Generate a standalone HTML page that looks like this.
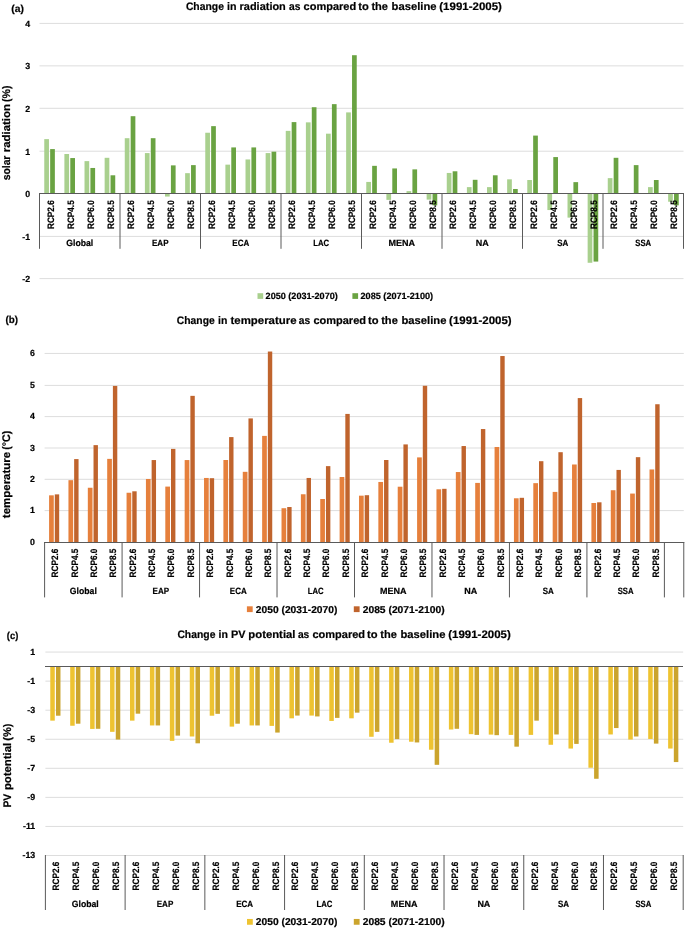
<!DOCTYPE html>
<html><head><meta charset="utf-8"><title>Figure</title>
<style>
html,body{margin:0;padding:0;background:#fff;}
body{width:685px;height:929px;overflow:hidden;font-family:"Liberation Sans",sans-serif;}
svg{display:block;will-change:transform;}
text{font-family:"Liberation Sans",sans-serif;font-weight:bold;fill:#000;stroke:#000;stroke-width:0.2px;text-rendering:geometricPrecision;}
.tk{font-size:8.8px;}
.ct{font-size:9.3px;}
.gp{font-size:9.1px;}
.ttl{font-size:10.9px;}
.yl{font-size:11.0px;}
.lg{font-size:9.1px;}
.lg2{font-size:10.0px;}
.pl{font-size:10.2px;}
</style></head><body>
<svg width="685" height="929" viewBox="0 0 685 929">
<rect x="0" y="0" width="685" height="929" fill="#fff"/>

<line x1="39.50" x2="683.50" y1="23.40" y2="23.40" stroke="#dddddd" stroke-width="1"/>
<line x1="39.50" x2="683.50" y1="65.85" y2="65.85" stroke="#dddddd" stroke-width="1"/>
<line x1="39.50" x2="683.50" y1="108.30" y2="108.30" stroke="#dddddd" stroke-width="1"/>
<line x1="39.50" x2="683.50" y1="151.20" y2="151.20" stroke="#dddddd" stroke-width="1"/>
<line x1="39.50" x2="683.50" y1="236.40" y2="236.40" stroke="#dddddd" stroke-width="1"/>
<line x1="39.50" x2="683.50" y1="278.60" y2="278.60" stroke="#dddddd" stroke-width="1"/>
<rect x="44.26" y="139.12" width="4.70" height="54.38" fill="#a9d08e"/>
<rect x="50.16" y="149.08" width="4.70" height="44.42" fill="#6aa342"/>
<rect x="64.39" y="154.01" width="4.70" height="39.49" fill="#a9d08e"/>
<rect x="70.29" y="158.06" width="4.70" height="35.44" fill="#6aa342"/>
<rect x="84.51" y="161.12" width="4.70" height="32.38" fill="#a9d08e"/>
<rect x="90.41" y="167.97" width="4.70" height="25.53" fill="#6aa342"/>
<rect x="104.64" y="157.80" width="4.70" height="35.70" fill="#a9d08e"/>
<rect x="110.54" y="175.29" width="4.70" height="18.21" fill="#6aa342"/>
<rect x="124.76" y="138.19" width="4.70" height="55.31" fill="#a9d08e"/>
<rect x="130.66" y="116.19" width="4.70" height="77.31" fill="#6aa342"/>
<rect x="144.89" y="153.08" width="4.70" height="40.42" fill="#a9d08e"/>
<rect x="150.79" y="138.19" width="4.70" height="55.31" fill="#6aa342"/>
<rect x="165.01" y="193.50" width="4.70" height="3.06" fill="#a9d08e"/>
<rect x="170.91" y="165.37" width="4.70" height="28.13" fill="#6aa342"/>
<rect x="185.14" y="173.16" width="4.70" height="20.34" fill="#a9d08e"/>
<rect x="191.04" y="165.12" width="4.70" height="28.38" fill="#6aa342"/>
<rect x="205.26" y="132.74" width="4.70" height="60.76" fill="#a9d08e"/>
<rect x="211.16" y="126.14" width="4.70" height="67.36" fill="#6aa342"/>
<rect x="225.39" y="164.65" width="4.70" height="28.85" fill="#a9d08e"/>
<rect x="231.29" y="147.42" width="4.70" height="46.08" fill="#6aa342"/>
<rect x="245.51" y="159.46" width="4.70" height="34.04" fill="#a9d08e"/>
<rect x="251.41" y="147.42" width="4.70" height="46.08" fill="#6aa342"/>
<rect x="265.64" y="153.08" width="4.70" height="40.42" fill="#a9d08e"/>
<rect x="271.54" y="151.67" width="4.70" height="41.83" fill="#6aa342"/>
<rect x="285.76" y="130.87" width="4.70" height="62.63" fill="#a9d08e"/>
<rect x="291.66" y="122.10" width="4.70" height="71.40" fill="#6aa342"/>
<rect x="305.89" y="122.36" width="4.70" height="71.14" fill="#a9d08e"/>
<rect x="311.79" y="107.21" width="4.70" height="86.29" fill="#6aa342"/>
<rect x="326.01" y="133.67" width="4.70" height="59.83" fill="#a9d08e"/>
<rect x="331.91" y="104.14" width="4.70" height="89.36" fill="#6aa342"/>
<rect x="346.14" y="112.40" width="4.70" height="81.10" fill="#a9d08e"/>
<rect x="352.04" y="55.21" width="4.70" height="138.29" fill="#6aa342"/>
<rect x="366.26" y="181.93" width="4.70" height="11.57" fill="#a9d08e"/>
<rect x="372.16" y="165.84" width="4.70" height="27.66" fill="#6aa342"/>
<rect x="386.39" y="193.50" width="4.70" height="6.38" fill="#a9d08e"/>
<rect x="392.29" y="168.44" width="4.70" height="25.06" fill="#6aa342"/>
<rect x="406.51" y="191.12" width="4.70" height="2.38" fill="#a9d08e"/>
<rect x="412.41" y="169.37" width="4.70" height="24.13" fill="#6aa342"/>
<rect x="426.64" y="193.50" width="4.70" height="6.13" fill="#a9d08e"/>
<rect x="432.54" y="193.50" width="4.70" height="11.83" fill="#6aa342"/>
<rect x="446.76" y="172.95" width="4.70" height="20.55" fill="#a9d08e"/>
<rect x="452.66" y="171.29" width="4.70" height="22.21" fill="#6aa342"/>
<rect x="466.89" y="187.12" width="4.70" height="6.38" fill="#a9d08e"/>
<rect x="472.79" y="179.80" width="4.70" height="13.70" fill="#6aa342"/>
<rect x="487.01" y="187.12" width="4.70" height="6.38" fill="#a9d08e"/>
<rect x="492.91" y="175.29" width="4.70" height="18.21" fill="#6aa342"/>
<rect x="507.14" y="179.33" width="4.70" height="14.17" fill="#a9d08e"/>
<rect x="513.04" y="188.99" width="4.70" height="4.51" fill="#6aa342"/>
<rect x="527.26" y="180.01" width="4.70" height="13.49" fill="#a9d08e"/>
<rect x="533.16" y="135.59" width="4.70" height="57.91" fill="#6aa342"/>
<rect x="547.39" y="193.50" width="4.70" height="16.55" fill="#a9d08e"/>
<rect x="553.29" y="157.08" width="4.70" height="36.42" fill="#6aa342"/>
<rect x="567.51" y="193.50" width="4.70" height="24.13" fill="#a9d08e"/>
<rect x="573.41" y="182.14" width="4.70" height="11.36" fill="#6aa342"/>
<rect x="587.64" y="193.50" width="4.70" height="69.27" fill="#a9d08e"/>
<rect x="593.54" y="193.50" width="4.70" height="68.08" fill="#6aa342"/>
<rect x="607.76" y="178.14" width="4.70" height="15.36" fill="#a9d08e"/>
<rect x="613.66" y="157.80" width="4.70" height="35.70" fill="#6aa342"/>
<rect x="633.79" y="165.12" width="4.70" height="28.38" fill="#6aa342"/>
<rect x="648.01" y="187.12" width="4.70" height="6.38" fill="#a9d08e"/>
<rect x="653.91" y="180.01" width="4.70" height="13.49" fill="#6aa342"/>
<rect x="668.14" y="193.50" width="4.70" height="8.25" fill="#a9d08e"/>
<rect x="674.04" y="193.50" width="4.70" height="11.83" fill="#6aa342"/>
<line x1="39.00" x2="684.00" y1="193.50" y2="193.50" stroke="#5a5a5a" stroke-width="1"/>
<line x1="39.50" x2="39.50" y1="193.00" y2="248.80" stroke="#5a5a5a" stroke-width="1"/>
<line x1="120.00" x2="120.00" y1="193.00" y2="248.80" stroke="#5a5a5a" stroke-width="1"/>
<line x1="200.50" x2="200.50" y1="193.00" y2="248.80" stroke="#5a5a5a" stroke-width="1"/>
<line x1="281.00" x2="281.00" y1="193.00" y2="248.80" stroke="#5a5a5a" stroke-width="1"/>
<line x1="361.50" x2="361.50" y1="193.00" y2="248.80" stroke="#5a5a5a" stroke-width="1"/>
<line x1="442.00" x2="442.00" y1="193.00" y2="248.80" stroke="#5a5a5a" stroke-width="1"/>
<line x1="522.50" x2="522.50" y1="193.00" y2="248.80" stroke="#5a5a5a" stroke-width="1"/>
<line x1="603.00" x2="603.00" y1="193.00" y2="248.80" stroke="#5a5a5a" stroke-width="1"/>
<line x1="683.50" x2="683.50" y1="193.00" y2="248.80" stroke="#5a5a5a" stroke-width="1"/>
<text x="30.20" y="26.70" text-anchor="end" class="tk">4</text>
<text x="30.20" y="69.15" text-anchor="end" class="tk">3</text>
<text x="30.20" y="111.60" text-anchor="end" class="tk">2</text>
<text x="30.20" y="154.50" text-anchor="end" class="tk">1</text>
<text x="30.20" y="196.80" text-anchor="end" class="tk">0</text>
<text x="30.20" y="239.70" text-anchor="end" class="tk">-1</text>
<text x="30.20" y="281.90" text-anchor="end" class="tk">-2</text>
<text transform="translate(53.51,229.00) rotate(-90)" class="ct" textLength="28.70" lengthAdjust="spacingAndGlyphs">RCP2.6</text>
<text transform="translate(73.64,229.00) rotate(-90)" class="ct" textLength="28.70" lengthAdjust="spacingAndGlyphs">RCP4.5</text>
<text transform="translate(93.76,229.00) rotate(-90)" class="ct" textLength="28.70" lengthAdjust="spacingAndGlyphs">RCP6.0</text>
<text transform="translate(113.89,229.00) rotate(-90)" class="ct" textLength="28.70" lengthAdjust="spacingAndGlyphs">RCP8.5</text>
<text transform="translate(134.01,229.00) rotate(-90)" class="ct" textLength="28.70" lengthAdjust="spacingAndGlyphs">RCP2.6</text>
<text transform="translate(154.14,229.00) rotate(-90)" class="ct" textLength="28.70" lengthAdjust="spacingAndGlyphs">RCP4.5</text>
<text transform="translate(174.26,229.00) rotate(-90)" class="ct" textLength="28.70" lengthAdjust="spacingAndGlyphs">RCP6.0</text>
<text transform="translate(194.39,229.00) rotate(-90)" class="ct" textLength="28.70" lengthAdjust="spacingAndGlyphs">RCP8.5</text>
<text transform="translate(214.51,229.00) rotate(-90)" class="ct" textLength="28.70" lengthAdjust="spacingAndGlyphs">RCP2.6</text>
<text transform="translate(234.64,229.00) rotate(-90)" class="ct" textLength="28.70" lengthAdjust="spacingAndGlyphs">RCP4.5</text>
<text transform="translate(254.76,229.00) rotate(-90)" class="ct" textLength="28.70" lengthAdjust="spacingAndGlyphs">RCP6.0</text>
<text transform="translate(274.89,229.00) rotate(-90)" class="ct" textLength="28.70" lengthAdjust="spacingAndGlyphs">RCP8.5</text>
<text transform="translate(295.01,229.00) rotate(-90)" class="ct" textLength="28.70" lengthAdjust="spacingAndGlyphs">RCP2.6</text>
<text transform="translate(315.14,229.00) rotate(-90)" class="ct" textLength="28.70" lengthAdjust="spacingAndGlyphs">RCP4.5</text>
<text transform="translate(335.26,229.00) rotate(-90)" class="ct" textLength="28.70" lengthAdjust="spacingAndGlyphs">RCP6.0</text>
<text transform="translate(355.39,229.00) rotate(-90)" class="ct" textLength="28.70" lengthAdjust="spacingAndGlyphs">RCP8.5</text>
<text transform="translate(375.51,229.00) rotate(-90)" class="ct" textLength="28.70" lengthAdjust="spacingAndGlyphs">RCP2.6</text>
<text transform="translate(395.64,229.00) rotate(-90)" class="ct" textLength="28.70" lengthAdjust="spacingAndGlyphs">RCP4.5</text>
<text transform="translate(415.76,229.00) rotate(-90)" class="ct" textLength="28.70" lengthAdjust="spacingAndGlyphs">RCP6.0</text>
<text transform="translate(435.89,229.00) rotate(-90)" class="ct" textLength="28.70" lengthAdjust="spacingAndGlyphs">RCP8.5</text>
<text transform="translate(456.01,229.00) rotate(-90)" class="ct" textLength="28.70" lengthAdjust="spacingAndGlyphs">RCP2.6</text>
<text transform="translate(476.14,229.00) rotate(-90)" class="ct" textLength="28.70" lengthAdjust="spacingAndGlyphs">RCP4.5</text>
<text transform="translate(496.26,229.00) rotate(-90)" class="ct" textLength="28.70" lengthAdjust="spacingAndGlyphs">RCP6.0</text>
<text transform="translate(516.39,229.00) rotate(-90)" class="ct" textLength="28.70" lengthAdjust="spacingAndGlyphs">RCP8.5</text>
<text transform="translate(536.51,229.00) rotate(-90)" class="ct" textLength="28.70" lengthAdjust="spacingAndGlyphs">RCP2.6</text>
<text transform="translate(556.64,229.00) rotate(-90)" class="ct" textLength="28.70" lengthAdjust="spacingAndGlyphs">RCP4.5</text>
<text transform="translate(576.76,229.00) rotate(-90)" class="ct" textLength="28.70" lengthAdjust="spacingAndGlyphs">RCP6.0</text>
<text transform="translate(596.89,229.00) rotate(-90)" class="ct" textLength="28.70" lengthAdjust="spacingAndGlyphs">RCP8.5</text>
<text transform="translate(617.01,229.00) rotate(-90)" class="ct" textLength="28.70" lengthAdjust="spacingAndGlyphs">RCP2.6</text>
<text transform="translate(637.14,229.00) rotate(-90)" class="ct" textLength="28.70" lengthAdjust="spacingAndGlyphs">RCP4.5</text>
<text transform="translate(657.26,229.00) rotate(-90)" class="ct" textLength="28.70" lengthAdjust="spacingAndGlyphs">RCP6.0</text>
<text transform="translate(677.39,229.00) rotate(-90)" class="ct" textLength="28.70" lengthAdjust="spacingAndGlyphs">RCP8.5</text>
<text x="66.25" y="246.00" class="gp" textLength="27.00" lengthAdjust="spacingAndGlyphs">Global</text>
<text x="151.95" y="246.00" class="gp" textLength="16.60" lengthAdjust="spacingAndGlyphs">EAP</text>
<text x="232.30" y="246.00" class="gp" textLength="16.90" lengthAdjust="spacingAndGlyphs">ECA</text>
<text x="313.30" y="246.00" class="gp" textLength="15.90" lengthAdjust="spacingAndGlyphs">LAC</text>
<text x="388.45" y="246.00" class="gp" textLength="26.60" lengthAdjust="spacingAndGlyphs">MENA</text>
<text x="475.75" y="246.00" class="gp" textLength="13.00" lengthAdjust="spacingAndGlyphs">NA</text>
<text x="557.20" y="246.00" class="gp" textLength="11.10" lengthAdjust="spacingAndGlyphs">SA</text>
<text x="635.30" y="246.00" class="gp" textLength="15.90" lengthAdjust="spacingAndGlyphs">SSA</text>
<text x="185.90" y="10.00" class="ttl" textLength="38.00" lengthAdjust="spacingAndGlyphs">Change</text>
<text x="227.10" y="10.00" class="ttl" textLength="9.50" lengthAdjust="spacingAndGlyphs">in</text>
<text x="239.60" y="10.00" class="ttl" textLength="46.20" lengthAdjust="spacingAndGlyphs">radiation</text>
<text x="289.00" y="10.00" class="ttl" textLength="11.40" lengthAdjust="spacingAndGlyphs">as</text>
<text x="303.60" y="10.00" class="ttl" textLength="52.60" lengthAdjust="spacingAndGlyphs">compared</text>
<text x="358.20" y="10.00" class="ttl" textLength="10.50" lengthAdjust="spacingAndGlyphs">to</text>
<text x="371.40" y="10.00" class="ttl" textLength="16.60" lengthAdjust="spacingAndGlyphs">the</text>
<text x="391.60" y="10.00" class="ttl" textLength="45.00" lengthAdjust="spacingAndGlyphs">baseline</text>
<text x="439.30" y="10.00" class="ttl" textLength="62.60" lengthAdjust="spacingAndGlyphs">(1991-2005)</text>
<text x="11.3" y="12.0" class="pl" textLength="12.6" lengthAdjust="spacingAndGlyphs">(a)</text>
<text transform="translate(10.30,180.30) rotate(-90)" class="yl" textLength="24.70" lengthAdjust="spacingAndGlyphs">solar</text>
<text transform="translate(10.30,152.30) rotate(-90)" class="yl" textLength="48.30" lengthAdjust="spacingAndGlyphs">radiation</text>
<text transform="translate(10.30,102.00) rotate(-90)" class="yl" textLength="16.40" lengthAdjust="spacingAndGlyphs">(%)</text>
<rect x="257.5" y="293.2" width="5.7" height="5.7" fill="#a9d08e"/>
<text x="265.6" y="299.2" class="lg" textLength="72.2" lengthAdjust="spacingAndGlyphs">2050 (2031-2070)</text>
<rect x="352.4" y="293.2" width="5.7" height="5.7" fill="#6aa342"/>
<text x="360.5" y="299.2" class="lg" textLength="72.6" lengthAdjust="spacingAndGlyphs">2085 (2071-2100)</text>
<line x1="44.60" x2="683.77" y1="353.45" y2="353.45" stroke="#dddddd" stroke-width="1"/>
<line x1="44.60" x2="683.77" y1="385.40" y2="385.40" stroke="#dddddd" stroke-width="1"/>
<line x1="44.60" x2="683.77" y1="416.60" y2="416.60" stroke="#dddddd" stroke-width="1"/>
<line x1="44.60" x2="683.77" y1="448.00" y2="448.00" stroke="#dddddd" stroke-width="1"/>
<line x1="44.60" x2="683.77" y1="479.30" y2="479.30" stroke="#dddddd" stroke-width="1"/>
<line x1="44.60" x2="683.77" y1="510.60" y2="510.60" stroke="#dddddd" stroke-width="1"/>
<rect x="49.08" y="495.33" width="4.70" height="46.67" fill="#e6803c"/>
<rect x="54.78" y="494.38" width="4.40" height="47.62" fill="#c0642d"/>
<rect x="68.45" y="480.18" width="4.70" height="61.82" fill="#e6803c"/>
<rect x="74.15" y="459.09" width="4.40" height="82.91" fill="#c0642d"/>
<rect x="87.82" y="487.75" width="4.70" height="54.25" fill="#e6803c"/>
<rect x="93.52" y="445.13" width="4.40" height="96.87" fill="#c0642d"/>
<rect x="107.19" y="458.87" width="4.70" height="83.13" fill="#e6803c"/>
<rect x="112.89" y="385.92" width="4.40" height="156.08" fill="#c0642d"/>
<rect x="126.56" y="492.75" width="4.70" height="49.25" fill="#e6803c"/>
<rect x="132.26" y="491.30" width="4.40" height="50.70" fill="#c0642d"/>
<rect x="145.93" y="478.98" width="4.70" height="63.02" fill="#e6803c"/>
<rect x="151.63" y="460.06" width="4.40" height="81.94" fill="#c0642d"/>
<rect x="165.30" y="486.59" width="4.70" height="55.41" fill="#e6803c"/>
<rect x="171.00" y="448.90" width="4.40" height="93.10" fill="#c0642d"/>
<rect x="184.67" y="460.06" width="4.70" height="81.94" fill="#e6803c"/>
<rect x="190.37" y="395.85" width="4.40" height="146.15" fill="#c0642d"/>
<rect x="204.03" y="477.95" width="4.70" height="64.05" fill="#e6803c"/>
<rect x="209.73" y="478.20" width="4.40" height="63.80" fill="#c0642d"/>
<rect x="223.40" y="460.00" width="4.70" height="82.00" fill="#e6803c"/>
<rect x="229.10" y="437.09" width="4.40" height="104.91" fill="#c0642d"/>
<rect x="242.77" y="471.82" width="4.70" height="70.18" fill="#e6803c"/>
<rect x="248.47" y="418.42" width="4.40" height="123.58" fill="#c0642d"/>
<rect x="262.14" y="435.89" width="4.70" height="106.11" fill="#e6803c"/>
<rect x="267.84" y="351.53" width="4.40" height="190.47" fill="#c0642d"/>
<rect x="281.51" y="508.21" width="4.70" height="33.79" fill="#e6803c"/>
<rect x="287.21" y="507.02" width="4.40" height="34.98" fill="#c0642d"/>
<rect x="300.88" y="494.26" width="4.70" height="47.74" fill="#e6803c"/>
<rect x="306.58" y="477.95" width="4.40" height="64.05" fill="#c0642d"/>
<rect x="320.25" y="499.00" width="4.70" height="43.00" fill="#e6803c"/>
<rect x="325.95" y="466.13" width="4.40" height="75.87" fill="#c0642d"/>
<rect x="339.62" y="477.00" width="4.70" height="65.00" fill="#e6803c"/>
<rect x="345.32" y="413.92" width="4.40" height="128.08" fill="#c0642d"/>
<rect x="358.99" y="495.67" width="4.70" height="46.33" fill="#e6803c"/>
<rect x="364.69" y="495.20" width="4.40" height="46.80" fill="#c0642d"/>
<rect x="378.35" y="481.97" width="4.70" height="60.03" fill="#e6803c"/>
<rect x="384.05" y="460.00" width="4.40" height="82.00" fill="#c0642d"/>
<rect x="397.72" y="486.71" width="4.70" height="55.29" fill="#e6803c"/>
<rect x="403.42" y="444.41" width="4.40" height="97.59" fill="#c0642d"/>
<rect x="417.09" y="457.39" width="4.70" height="84.61" fill="#e6803c"/>
<rect x="422.79" y="385.79" width="4.40" height="156.21" fill="#c0642d"/>
<rect x="436.46" y="489.29" width="4.70" height="52.71" fill="#e6803c"/>
<rect x="442.16" y="488.82" width="4.40" height="53.18" fill="#c0642d"/>
<rect x="455.83" y="472.04" width="4.70" height="69.96" fill="#e6803c"/>
<rect x="461.53" y="446.04" width="4.40" height="95.96" fill="#c0642d"/>
<rect x="475.20" y="482.91" width="4.70" height="59.09" fill="#e6803c"/>
<rect x="480.90" y="429.04" width="4.40" height="112.96" fill="#c0642d"/>
<rect x="494.57" y="446.99" width="4.70" height="95.01" fill="#e6803c"/>
<rect x="500.27" y="356.03" width="4.40" height="185.97" fill="#c0642d"/>
<rect x="513.94" y="498.28" width="4.70" height="43.72" fill="#e6803c"/>
<rect x="519.64" y="497.81" width="4.40" height="44.19" fill="#c0642d"/>
<rect x="533.30" y="483.16" width="4.70" height="58.84" fill="#e6803c"/>
<rect x="539.00" y="461.19" width="4.40" height="80.81" fill="#c0642d"/>
<rect x="552.67" y="491.90" width="4.70" height="50.10" fill="#e6803c"/>
<rect x="558.37" y="452.20" width="4.40" height="89.80" fill="#c0642d"/>
<rect x="572.04" y="464.49" width="4.70" height="77.51" fill="#e6803c"/>
<rect x="577.74" y="398.08" width="4.40" height="143.92" fill="#c0642d"/>
<rect x="591.41" y="503.00" width="4.70" height="39.00" fill="#e6803c"/>
<rect x="597.11" y="502.30" width="4.40" height="39.70" fill="#c0642d"/>
<rect x="610.78" y="490.23" width="4.70" height="51.77" fill="#e6803c"/>
<rect x="616.48" y="469.93" width="4.40" height="72.07" fill="#c0642d"/>
<rect x="630.15" y="493.57" width="4.70" height="48.43" fill="#e6803c"/>
<rect x="635.85" y="457.17" width="4.40" height="84.83" fill="#c0642d"/>
<rect x="649.52" y="469.46" width="4.70" height="72.54" fill="#e6803c"/>
<rect x="655.22" y="404.24" width="4.40" height="137.76" fill="#c0642d"/>
<line x1="44.10" x2="684.27" y1="542.50" y2="542.50" stroke="#5a5a5a" stroke-width="1"/>
<line x1="44.60" x2="44.60" y1="542.00" y2="597.40" stroke="#5a5a5a" stroke-width="1"/>
<line x1="122.08" x2="122.08" y1="542.00" y2="597.40" stroke="#5a5a5a" stroke-width="1"/>
<line x1="199.55" x2="199.55" y1="542.00" y2="597.40" stroke="#5a5a5a" stroke-width="1"/>
<line x1="277.03" x2="277.03" y1="542.00" y2="597.40" stroke="#5a5a5a" stroke-width="1"/>
<line x1="354.50" x2="354.50" y1="542.00" y2="597.40" stroke="#5a5a5a" stroke-width="1"/>
<line x1="431.98" x2="431.98" y1="542.00" y2="597.40" stroke="#5a5a5a" stroke-width="1"/>
<line x1="509.45" x2="509.45" y1="542.00" y2="597.40" stroke="#5a5a5a" stroke-width="1"/>
<line x1="586.93" x2="586.93" y1="542.00" y2="597.40" stroke="#5a5a5a" stroke-width="1"/>
<line x1="664.40" x2="664.40" y1="542.00" y2="597.40" stroke="#5a5a5a" stroke-width="1"/>
<line x1="683.77" x2="683.77" y1="542.00" y2="597.40" stroke="#5a5a5a" stroke-width="1"/>
<text x="35.00" y="356.20" text-anchor="end" class="tk">6</text>
<text x="35.00" y="388.15" text-anchor="end" class="tk">5</text>
<text x="35.00" y="419.35" text-anchor="end" class="tk">4</text>
<text x="35.00" y="450.75" text-anchor="end" class="tk">3</text>
<text x="35.00" y="482.05" text-anchor="end" class="tk">2</text>
<text x="35.00" y="513.35" text-anchor="end" class="tk">1</text>
<text x="35.00" y="544.75" text-anchor="end" class="tk">0</text>
<text transform="translate(58.23,577.50) rotate(-90)" class="ct" textLength="28.90" lengthAdjust="spacingAndGlyphs">RCP2.6</text>
<text transform="translate(77.60,577.50) rotate(-90)" class="ct" textLength="28.90" lengthAdjust="spacingAndGlyphs">RCP4.5</text>
<text transform="translate(96.97,577.50) rotate(-90)" class="ct" textLength="28.90" lengthAdjust="spacingAndGlyphs">RCP6.0</text>
<text transform="translate(116.34,577.50) rotate(-90)" class="ct" textLength="28.90" lengthAdjust="spacingAndGlyphs">RCP8.5</text>
<text transform="translate(135.71,577.50) rotate(-90)" class="ct" textLength="28.90" lengthAdjust="spacingAndGlyphs">RCP2.6</text>
<text transform="translate(155.08,577.50) rotate(-90)" class="ct" textLength="28.90" lengthAdjust="spacingAndGlyphs">RCP4.5</text>
<text transform="translate(174.45,577.50) rotate(-90)" class="ct" textLength="28.90" lengthAdjust="spacingAndGlyphs">RCP6.0</text>
<text transform="translate(193.82,577.50) rotate(-90)" class="ct" textLength="28.90" lengthAdjust="spacingAndGlyphs">RCP8.5</text>
<text transform="translate(213.18,577.50) rotate(-90)" class="ct" textLength="28.90" lengthAdjust="spacingAndGlyphs">RCP2.6</text>
<text transform="translate(232.55,577.50) rotate(-90)" class="ct" textLength="28.90" lengthAdjust="spacingAndGlyphs">RCP4.5</text>
<text transform="translate(251.92,577.50) rotate(-90)" class="ct" textLength="28.90" lengthAdjust="spacingAndGlyphs">RCP6.0</text>
<text transform="translate(271.29,577.50) rotate(-90)" class="ct" textLength="28.90" lengthAdjust="spacingAndGlyphs">RCP8.5</text>
<text transform="translate(290.66,577.50) rotate(-90)" class="ct" textLength="28.90" lengthAdjust="spacingAndGlyphs">RCP2.6</text>
<text transform="translate(310.03,577.50) rotate(-90)" class="ct" textLength="28.90" lengthAdjust="spacingAndGlyphs">RCP4.5</text>
<text transform="translate(329.40,577.50) rotate(-90)" class="ct" textLength="28.90" lengthAdjust="spacingAndGlyphs">RCP6.0</text>
<text transform="translate(348.77,577.50) rotate(-90)" class="ct" textLength="28.90" lengthAdjust="spacingAndGlyphs">RCP8.5</text>
<text transform="translate(368.13,577.50) rotate(-90)" class="ct" textLength="28.90" lengthAdjust="spacingAndGlyphs">RCP2.6</text>
<text transform="translate(387.50,577.50) rotate(-90)" class="ct" textLength="28.90" lengthAdjust="spacingAndGlyphs">RCP4.5</text>
<text transform="translate(406.87,577.50) rotate(-90)" class="ct" textLength="28.90" lengthAdjust="spacingAndGlyphs">RCP6.0</text>
<text transform="translate(426.24,577.50) rotate(-90)" class="ct" textLength="28.90" lengthAdjust="spacingAndGlyphs">RCP8.5</text>
<text transform="translate(445.61,577.50) rotate(-90)" class="ct" textLength="28.90" lengthAdjust="spacingAndGlyphs">RCP2.6</text>
<text transform="translate(464.98,577.50) rotate(-90)" class="ct" textLength="28.90" lengthAdjust="spacingAndGlyphs">RCP4.5</text>
<text transform="translate(484.35,577.50) rotate(-90)" class="ct" textLength="28.90" lengthAdjust="spacingAndGlyphs">RCP6.0</text>
<text transform="translate(503.72,577.50) rotate(-90)" class="ct" textLength="28.90" lengthAdjust="spacingAndGlyphs">RCP8.5</text>
<text transform="translate(523.09,577.50) rotate(-90)" class="ct" textLength="28.90" lengthAdjust="spacingAndGlyphs">RCP2.6</text>
<text transform="translate(542.45,577.50) rotate(-90)" class="ct" textLength="28.90" lengthAdjust="spacingAndGlyphs">RCP4.5</text>
<text transform="translate(561.82,577.50) rotate(-90)" class="ct" textLength="28.90" lengthAdjust="spacingAndGlyphs">RCP6.0</text>
<text transform="translate(581.19,577.50) rotate(-90)" class="ct" textLength="28.90" lengthAdjust="spacingAndGlyphs">RCP8.5</text>
<text transform="translate(600.56,577.50) rotate(-90)" class="ct" textLength="28.90" lengthAdjust="spacingAndGlyphs">RCP2.6</text>
<text transform="translate(619.93,577.50) rotate(-90)" class="ct" textLength="28.90" lengthAdjust="spacingAndGlyphs">RCP4.5</text>
<text transform="translate(639.30,577.50) rotate(-90)" class="ct" textLength="28.90" lengthAdjust="spacingAndGlyphs">RCP6.0</text>
<text transform="translate(658.67,577.50) rotate(-90)" class="ct" textLength="28.90" lengthAdjust="spacingAndGlyphs">RCP8.5</text>
<text x="69.84" y="594.00" class="gp" textLength="27.00" lengthAdjust="spacingAndGlyphs">Global</text>
<text x="152.51" y="594.00" class="gp" textLength="16.60" lengthAdjust="spacingAndGlyphs">EAP</text>
<text x="229.84" y="594.00" class="gp" textLength="16.90" lengthAdjust="spacingAndGlyphs">ECA</text>
<text x="307.81" y="594.00" class="gp" textLength="15.90" lengthAdjust="spacingAndGlyphs">LAC</text>
<text x="379.94" y="594.00" class="gp" textLength="26.60" lengthAdjust="spacingAndGlyphs">MENA</text>
<text x="464.21" y="594.00" class="gp" textLength="13.00" lengthAdjust="spacingAndGlyphs">NA</text>
<text x="542.64" y="594.00" class="gp" textLength="11.10" lengthAdjust="spacingAndGlyphs">SA</text>
<text x="617.71" y="594.00" class="gp" textLength="15.90" lengthAdjust="spacingAndGlyphs">SSA</text>
<text x="176.80" y="324.00" class="ttl" textLength="37.90" lengthAdjust="spacingAndGlyphs">Change</text>
<text x="218.00" y="324.00" class="ttl" textLength="9.30" lengthAdjust="spacingAndGlyphs">in</text>
<text x="230.50" y="324.00" class="ttl" textLength="66.00" lengthAdjust="spacingAndGlyphs">temperature</text>
<text x="298.80" y="324.00" class="ttl" textLength="11.40" lengthAdjust="spacingAndGlyphs">as</text>
<text x="313.40" y="324.00" class="ttl" textLength="52.60" lengthAdjust="spacingAndGlyphs">compared</text>
<text x="368.00" y="324.00" class="ttl" textLength="10.50" lengthAdjust="spacingAndGlyphs">to</text>
<text x="381.20" y="324.00" class="ttl" textLength="16.60" lengthAdjust="spacingAndGlyphs">the</text>
<text x="401.40" y="324.00" class="ttl" textLength="45.00" lengthAdjust="spacingAndGlyphs">baseline</text>
<text x="449.10" y="324.00" class="ttl" textLength="62.60" lengthAdjust="spacingAndGlyphs">(1991-2005)</text>
<text x="5.5" y="322.8" class="pl" textLength="12.5" lengthAdjust="spacingAndGlyphs">(b)</text>
<text transform="translate(10.30,518.20) rotate(-90)" class="yl" textLength="66.40" lengthAdjust="spacingAndGlyphs">temperature</text>
<text transform="translate(10.30,449.80) rotate(-90)" class="yl" textLength="19.00" lengthAdjust="spacingAndGlyphs">(°C)</text>
<rect x="246.9" y="606.3" width="5.8" height="5.8" fill="#e6803c"/>
<text x="255.8" y="613.0" class="lg2" textLength="81.6" lengthAdjust="spacingAndGlyphs">2050 (2031-2070)</text>
<rect x="353.8" y="606.3" width="5.8" height="5.8" fill="#c0642d"/>
<text x="362.7" y="613.0" class="lg2" textLength="81.9" lengthAdjust="spacingAndGlyphs">2085 (2071-2100)</text>
<line x1="45.40" x2="683.20" y1="652.07" y2="652.07" stroke="#dddddd" stroke-width="1"/>
<line x1="45.40" x2="683.20" y1="681.13" y2="681.13" stroke="#dddddd" stroke-width="1"/>
<line x1="45.40" x2="683.20" y1="710.19" y2="710.19" stroke="#dddddd" stroke-width="1"/>
<line x1="45.40" x2="683.20" y1="739.25" y2="739.25" stroke="#dddddd" stroke-width="1"/>
<line x1="45.40" x2="683.20" y1="768.31" y2="768.31" stroke="#dddddd" stroke-width="1"/>
<line x1="45.40" x2="683.20" y1="797.37" y2="797.37" stroke="#dddddd" stroke-width="1"/>
<line x1="45.40" x2="683.20" y1="826.43" y2="826.43" stroke="#dddddd" stroke-width="1"/>
<line x1="45.40" x2="683.20" y1="855.49" y2="855.49" stroke="#dddddd" stroke-width="1"/>
<rect x="50.27" y="666.60" width="4.50" height="54.05" fill="#eec331"/>
<rect x="55.97" y="666.60" width="4.50" height="49.11" fill="#cba42d"/>
<rect x="70.20" y="666.60" width="4.50" height="59.14" fill="#eec331"/>
<rect x="75.90" y="666.60" width="4.50" height="57.10" fill="#cba42d"/>
<rect x="90.13" y="666.60" width="4.50" height="62.33" fill="#eec331"/>
<rect x="95.83" y="666.60" width="4.50" height="62.19" fill="#cba42d"/>
<rect x="110.06" y="666.60" width="4.50" height="65.24" fill="#eec331"/>
<rect x="115.76" y="666.60" width="4.50" height="72.94" fill="#cba42d"/>
<rect x="129.99" y="666.60" width="4.50" height="54.05" fill="#eec331"/>
<rect x="135.69" y="666.60" width="4.50" height="47.08" fill="#cba42d"/>
<rect x="149.92" y="666.60" width="4.50" height="58.85" fill="#eec331"/>
<rect x="155.62" y="666.60" width="4.50" height="58.85" fill="#cba42d"/>
<rect x="169.85" y="666.60" width="4.50" height="74.25" fill="#eec331"/>
<rect x="175.55" y="666.60" width="4.50" height="69.02" fill="#cba42d"/>
<rect x="189.78" y="666.60" width="4.50" height="69.89" fill="#eec331"/>
<rect x="195.48" y="666.60" width="4.50" height="76.72" fill="#cba42d"/>
<rect x="209.72" y="666.60" width="4.50" height="49.11" fill="#eec331"/>
<rect x="215.42" y="666.60" width="4.50" height="47.22" fill="#cba42d"/>
<rect x="229.65" y="666.60" width="4.50" height="60.01" fill="#eec331"/>
<rect x="235.35" y="666.60" width="4.50" height="57.10" fill="#cba42d"/>
<rect x="249.58" y="666.60" width="4.50" height="58.85" fill="#eec331"/>
<rect x="255.28" y="666.60" width="4.50" height="58.85" fill="#cba42d"/>
<rect x="269.51" y="666.60" width="4.50" height="59.28" fill="#eec331"/>
<rect x="275.21" y="666.60" width="4.50" height="65.97" fill="#cba42d"/>
<rect x="289.44" y="666.60" width="4.50" height="51.73" fill="#eec331"/>
<rect x="295.14" y="666.60" width="4.50" height="48.97" fill="#cba42d"/>
<rect x="309.37" y="666.60" width="4.50" height="48.97" fill="#eec331"/>
<rect x="315.07" y="666.60" width="4.50" height="49.84" fill="#cba42d"/>
<rect x="329.30" y="666.60" width="4.50" height="54.34" fill="#eec331"/>
<rect x="335.00" y="666.60" width="4.50" height="51.29" fill="#cba42d"/>
<rect x="349.23" y="666.60" width="4.50" height="51.73" fill="#eec331"/>
<rect x="354.93" y="666.60" width="4.50" height="46.06" fill="#cba42d"/>
<rect x="369.17" y="666.60" width="4.50" height="70.18" fill="#eec331"/>
<rect x="374.87" y="666.60" width="4.50" height="65.24" fill="#cba42d"/>
<rect x="389.10" y="666.60" width="4.50" height="76.14" fill="#eec331"/>
<rect x="394.80" y="666.60" width="4.50" height="72.50" fill="#cba42d"/>
<rect x="409.03" y="666.60" width="4.50" height="75.12" fill="#eec331"/>
<rect x="414.73" y="666.60" width="4.50" height="75.85" fill="#cba42d"/>
<rect x="428.96" y="666.60" width="4.50" height="83.11" fill="#eec331"/>
<rect x="434.66" y="666.60" width="4.50" height="98.22" fill="#cba42d"/>
<rect x="448.89" y="666.60" width="4.50" height="62.91" fill="#eec331"/>
<rect x="454.59" y="666.60" width="4.50" height="62.19" fill="#cba42d"/>
<rect x="468.82" y="666.60" width="4.50" height="67.56" fill="#eec331"/>
<rect x="474.52" y="666.60" width="4.50" height="68.29" fill="#cba42d"/>
<rect x="488.75" y="666.60" width="4.50" height="68.00" fill="#eec331"/>
<rect x="494.45" y="666.60" width="4.50" height="68.58" fill="#cba42d"/>
<rect x="508.68" y="666.60" width="4.50" height="68.29" fill="#eec331"/>
<rect x="514.38" y="666.60" width="4.50" height="80.06" fill="#cba42d"/>
<rect x="528.62" y="666.60" width="4.50" height="68.29" fill="#eec331"/>
<rect x="534.32" y="666.60" width="4.50" height="54.05" fill="#cba42d"/>
<rect x="548.55" y="666.60" width="4.50" height="78.17" fill="#eec331"/>
<rect x="554.25" y="666.60" width="4.50" height="67.86" fill="#cba42d"/>
<rect x="568.48" y="666.60" width="4.50" height="81.95" fill="#eec331"/>
<rect x="574.18" y="666.60" width="4.50" height="77.30" fill="#cba42d"/>
<rect x="588.41" y="666.60" width="4.50" height="101.13" fill="#eec331"/>
<rect x="594.11" y="666.60" width="4.50" height="112.17" fill="#cba42d"/>
<rect x="608.34" y="666.60" width="4.50" height="67.86" fill="#eec331"/>
<rect x="614.04" y="666.60" width="4.50" height="61.46" fill="#cba42d"/>
<rect x="628.27" y="666.60" width="4.50" height="72.94" fill="#eec331"/>
<rect x="633.97" y="666.60" width="4.50" height="69.89" fill="#cba42d"/>
<rect x="648.20" y="666.60" width="4.50" height="72.36" fill="#eec331"/>
<rect x="653.90" y="666.60" width="4.50" height="77.01" fill="#cba42d"/>
<rect x="668.13" y="666.60" width="4.50" height="81.95" fill="#eec331"/>
<rect x="673.83" y="666.60" width="4.50" height="95.46" fill="#cba42d"/>
<line x1="45.00" x2="683.00" y1="666.50" y2="666.50" stroke="#5a5a5a" stroke-width="1"/>
<line x1="45.40" x2="45.40" y1="855.00" y2="910.00" stroke="#5a5a5a" stroke-width="1"/>
<line x1="125.12" x2="125.12" y1="855.00" y2="910.00" stroke="#5a5a5a" stroke-width="1"/>
<line x1="204.85" x2="204.85" y1="855.00" y2="910.00" stroke="#5a5a5a" stroke-width="1"/>
<line x1="284.57" x2="284.57" y1="855.00" y2="910.00" stroke="#5a5a5a" stroke-width="1"/>
<line x1="364.30" x2="364.30" y1="855.00" y2="910.00" stroke="#5a5a5a" stroke-width="1"/>
<line x1="444.03" x2="444.03" y1="855.00" y2="910.00" stroke="#5a5a5a" stroke-width="1"/>
<line x1="523.75" x2="523.75" y1="855.00" y2="910.00" stroke="#5a5a5a" stroke-width="1"/>
<line x1="603.48" x2="603.48" y1="855.00" y2="910.00" stroke="#5a5a5a" stroke-width="1"/>
<line x1="683.20" x2="683.20" y1="855.00" y2="910.00" stroke="#5a5a5a" stroke-width="1"/>
<text x="35.20" y="654.82" text-anchor="end" class="tk">1</text>
<text x="35.20" y="683.88" text-anchor="end" class="tk">-1</text>
<text x="35.20" y="712.94" text-anchor="end" class="tk">-3</text>
<text x="35.20" y="742.00" text-anchor="end" class="tk">-5</text>
<text x="35.20" y="771.06" text-anchor="end" class="tk">-7</text>
<text x="35.20" y="800.12" text-anchor="end" class="tk">-9</text>
<text x="35.20" y="829.18" text-anchor="end" class="tk">-11</text>
<text x="35.20" y="858.24" text-anchor="end" class="tk">-13</text>
<text transform="translate(59.32,890.50) rotate(-90)" class="ct" textLength="28.90" lengthAdjust="spacingAndGlyphs">RCP2.6</text>
<text transform="translate(79.25,890.50) rotate(-90)" class="ct" textLength="28.90" lengthAdjust="spacingAndGlyphs">RCP4.5</text>
<text transform="translate(99.18,890.50) rotate(-90)" class="ct" textLength="28.90" lengthAdjust="spacingAndGlyphs">RCP6.0</text>
<text transform="translate(119.11,890.50) rotate(-90)" class="ct" textLength="28.90" lengthAdjust="spacingAndGlyphs">RCP8.5</text>
<text transform="translate(139.04,890.50) rotate(-90)" class="ct" textLength="28.90" lengthAdjust="spacingAndGlyphs">RCP2.6</text>
<text transform="translate(158.97,890.50) rotate(-90)" class="ct" textLength="28.90" lengthAdjust="spacingAndGlyphs">RCP4.5</text>
<text transform="translate(178.90,890.50) rotate(-90)" class="ct" textLength="28.90" lengthAdjust="spacingAndGlyphs">RCP6.0</text>
<text transform="translate(198.83,890.50) rotate(-90)" class="ct" textLength="28.90" lengthAdjust="spacingAndGlyphs">RCP8.5</text>
<text transform="translate(218.77,890.50) rotate(-90)" class="ct" textLength="28.90" lengthAdjust="spacingAndGlyphs">RCP2.6</text>
<text transform="translate(238.70,890.50) rotate(-90)" class="ct" textLength="28.90" lengthAdjust="spacingAndGlyphs">RCP4.5</text>
<text transform="translate(258.63,890.50) rotate(-90)" class="ct" textLength="28.90" lengthAdjust="spacingAndGlyphs">RCP6.0</text>
<text transform="translate(278.56,890.50) rotate(-90)" class="ct" textLength="28.90" lengthAdjust="spacingAndGlyphs">RCP8.5</text>
<text transform="translate(298.49,890.50) rotate(-90)" class="ct" textLength="28.90" lengthAdjust="spacingAndGlyphs">RCP2.6</text>
<text transform="translate(318.42,890.50) rotate(-90)" class="ct" textLength="28.90" lengthAdjust="spacingAndGlyphs">RCP4.5</text>
<text transform="translate(338.35,890.50) rotate(-90)" class="ct" textLength="28.90" lengthAdjust="spacingAndGlyphs">RCP6.0</text>
<text transform="translate(358.28,890.50) rotate(-90)" class="ct" textLength="28.90" lengthAdjust="spacingAndGlyphs">RCP8.5</text>
<text transform="translate(378.22,890.50) rotate(-90)" class="ct" textLength="28.90" lengthAdjust="spacingAndGlyphs">RCP2.6</text>
<text transform="translate(398.15,890.50) rotate(-90)" class="ct" textLength="28.90" lengthAdjust="spacingAndGlyphs">RCP4.5</text>
<text transform="translate(418.08,890.50) rotate(-90)" class="ct" textLength="28.90" lengthAdjust="spacingAndGlyphs">RCP6.0</text>
<text transform="translate(438.01,890.50) rotate(-90)" class="ct" textLength="28.90" lengthAdjust="spacingAndGlyphs">RCP8.5</text>
<text transform="translate(457.94,890.50) rotate(-90)" class="ct" textLength="28.90" lengthAdjust="spacingAndGlyphs">RCP2.6</text>
<text transform="translate(477.87,890.50) rotate(-90)" class="ct" textLength="28.90" lengthAdjust="spacingAndGlyphs">RCP4.5</text>
<text transform="translate(497.80,890.50) rotate(-90)" class="ct" textLength="28.90" lengthAdjust="spacingAndGlyphs">RCP6.0</text>
<text transform="translate(517.73,890.50) rotate(-90)" class="ct" textLength="28.90" lengthAdjust="spacingAndGlyphs">RCP8.5</text>
<text transform="translate(537.67,890.50) rotate(-90)" class="ct" textLength="28.90" lengthAdjust="spacingAndGlyphs">RCP2.6</text>
<text transform="translate(557.60,890.50) rotate(-90)" class="ct" textLength="28.90" lengthAdjust="spacingAndGlyphs">RCP4.5</text>
<text transform="translate(577.53,890.50) rotate(-90)" class="ct" textLength="28.90" lengthAdjust="spacingAndGlyphs">RCP6.0</text>
<text transform="translate(597.46,890.50) rotate(-90)" class="ct" textLength="28.90" lengthAdjust="spacingAndGlyphs">RCP8.5</text>
<text transform="translate(617.39,890.50) rotate(-90)" class="ct" textLength="28.90" lengthAdjust="spacingAndGlyphs">RCP2.6</text>
<text transform="translate(637.32,890.50) rotate(-90)" class="ct" textLength="28.90" lengthAdjust="spacingAndGlyphs">RCP4.5</text>
<text transform="translate(657.25,890.50) rotate(-90)" class="ct" textLength="28.90" lengthAdjust="spacingAndGlyphs">RCP6.0</text>
<text transform="translate(677.18,890.50) rotate(-90)" class="ct" textLength="28.90" lengthAdjust="spacingAndGlyphs">RCP8.5</text>
<text x="71.76" y="907.00" class="gp" textLength="27.00" lengthAdjust="spacingAndGlyphs">Global</text>
<text x="156.69" y="907.00" class="gp" textLength="16.60" lengthAdjust="spacingAndGlyphs">EAP</text>
<text x="236.26" y="907.00" class="gp" textLength="16.90" lengthAdjust="spacingAndGlyphs">ECA</text>
<text x="316.49" y="907.00" class="gp" textLength="15.90" lengthAdjust="spacingAndGlyphs">LAC</text>
<text x="390.86" y="907.00" class="gp" textLength="26.60" lengthAdjust="spacingAndGlyphs">MENA</text>
<text x="477.39" y="907.00" class="gp" textLength="13.00" lengthAdjust="spacingAndGlyphs">NA</text>
<text x="558.06" y="907.00" class="gp" textLength="11.10" lengthAdjust="spacingAndGlyphs">SA</text>
<text x="635.39" y="907.00" class="gp" textLength="15.90" lengthAdjust="spacingAndGlyphs">SSA</text>
<text x="177.40" y="638.00" class="ttl" textLength="38.00" lengthAdjust="spacingAndGlyphs">Change</text>
<text x="218.60" y="638.00" class="ttl" textLength="9.40" lengthAdjust="spacingAndGlyphs">in</text>
<text x="230.90" y="638.00" class="ttl" textLength="14.50" lengthAdjust="spacingAndGlyphs">PV</text>
<text x="248.30" y="638.00" class="ttl" textLength="47.20" lengthAdjust="spacingAndGlyphs">potential</text>
<text x="297.90" y="638.00" class="ttl" textLength="11.40" lengthAdjust="spacingAndGlyphs">as</text>
<text x="312.50" y="638.00" class="ttl" textLength="52.60" lengthAdjust="spacingAndGlyphs">compared</text>
<text x="367.10" y="638.00" class="ttl" textLength="10.50" lengthAdjust="spacingAndGlyphs">to</text>
<text x="380.30" y="638.00" class="ttl" textLength="16.60" lengthAdjust="spacingAndGlyphs">the</text>
<text x="400.50" y="638.00" class="ttl" textLength="45.00" lengthAdjust="spacingAndGlyphs">baseline</text>
<text x="448.20" y="638.00" class="ttl" textLength="62.60" lengthAdjust="spacingAndGlyphs">(1991-2005)</text>
<text x="6.8" y="638.7" class="pl" textLength="11.5" lengthAdjust="spacingAndGlyphs">(c)</text>
<text transform="translate(10.90,807.60) rotate(-90)" class="yl" textLength="13.75" lengthAdjust="spacingAndGlyphs">PV</text>
<text transform="translate(10.90,790.10) rotate(-90)" class="yl" textLength="47.20" lengthAdjust="spacingAndGlyphs">potential</text>
<text transform="translate(10.90,740.70) rotate(-90)" class="yl" textLength="17.20" lengthAdjust="spacingAndGlyphs">(%)</text>
<rect x="247.0" y="918.95" width="5.8" height="5.8" fill="#eec331"/>
<text x="255.8" y="925.4" class="lg2" textLength="81.6" lengthAdjust="spacingAndGlyphs">2050 (2031-2070)</text>
<rect x="353.8" y="918.95" width="5.8" height="5.8" fill="#cba42d"/>
<text x="362.7" y="925.4" class="lg2" textLength="81.9" lengthAdjust="spacingAndGlyphs">2085 (2071-2100)</text>
</svg></body></html>
